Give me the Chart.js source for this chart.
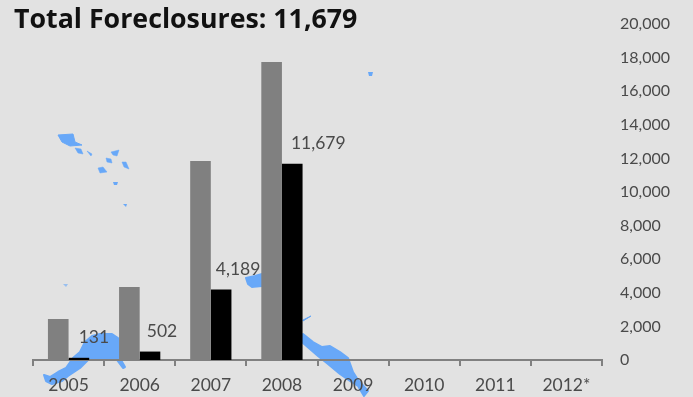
<!DOCTYPE html>
<html>
<head>
<meta charset="utf-8">
<script src="https://cdn.jsdelivr.net/npm/chart.js@4"></script>
<style>
  html, body { margin: 0; padding: 0; background: #e2e2e2; }
  #wrap { position: relative; width: 693px; height: 397px; overflow: hidden; }
  #stains { position: absolute; left: 0; top: 0; }
  canvas { position: absolute; left: 0; top: 0; }
</style>
</head>
<body>
<div id="wrap">
  <!-- Blue map fragments sitting behind the plot -->
  <svg id="stains" width="693" height="397" fill="#68a8f8" stroke="#68a8f8" stroke-width="2" stroke-linejoin="round">
    <path d="M44 375 L50 377 L58 372 L66 368 L73 358 L80 352 L85 342 L92 336 L100 334 L112 334 L118 338 L119 352 L121 360 L125 367 L123 368 L117 360 L112 358 L88 360 L80 368 L68 376 L62 381 L52 384 L46 381 Z"/>
    <path d="M303 334 L308 338 L313 342 L322 347 L330 346 L340 352 L348 358 L353 372 L358 380 L368 391 L364 396 L358 386 L350 381 L340 374 L328 364 L318 356 L303 343 Z"/>
    <path d="M303 320 L311 316 L303 321 Z" stroke-width="1"/>
    <path d="M246 278 L255 276 L262 274 L262 286 L252 287 L248 284 Z"/>
    <path d="M58 135 L73 134 L75 142 L82 145 L70 146 L62 142 Z" stroke-width="1"/>
    <path d="M75 148 L81 149 L83 154 L78 153 Z" stroke-width="0.5"/>
    <path d="M87 151 L92 154 L91 156 Z" stroke-width="0.5"/>
    <path d="M111 152 L119 150 L117 156 L113 155 Z" stroke-width="0.5"/>
    <path d="M106 158 L111 159 L112 163 L107 162 Z" stroke-width="0.5"/>
    <path d="M122 162 L126 162 L129 169 L124 167 Z" stroke-width="0.5"/>
    <path d="M98 168 L103 167 L107 172 L100 173 Z" stroke-width="0.5"/>
    <path d="M113 182 L118 182 L117 185 L114 185 Z" stroke="none"/>
    <path d="M123 204 L127 204 L126 207 Z" stroke="none"/>
    <path d="M368 72 L373 72 L372 76 L369 76 Z" stroke="none"/>
    <path d="M63 284 L68 284 L66 287 Z" stroke="none" opacity="0.6"/>
  </svg>
  <canvas id="chart" width="693" height="397"></canvas>
</div>
<script>
const years = ['2005', '2006', '2007', '2008', '2009', '2010', '2011', '2012*'];
const priorSeries = [2440, 4345, 11850, 17740, null, null, null, null];
const foreclosures = [131, 502, 4189, 11679, null, null, null, null];
const valueLabels = ['131', '502', '4,189', '11,679'];
const labelShift = [15, 12, 17, 26];
const heading = 'Total Foreclosures: 11,679';

const plotTop = 24;
const plotBottom = 360;

const textColor = '#4a4a4a';
const fontFamily = 'Lato, "Open Sans", sans-serif';

// Pins the vertical extent of the value axis once layout has finished
const plotExtentPlugin = {
  id: 'plotExtent',
  afterLayout(chart) {
    const y = chart.scales.y;
    y.top = plotTop;
    y.bottom = plotBottom;
    y.height = plotBottom - plotTop;
    y.configure();
    chart.chartArea.top = plotTop;
    chart.chartArea.bottom = plotBottom;
    chart.chartArea.height = plotBottom - plotTop;
  }
};

// Writes the heading above the plot and the value beside each black bar
const annotationPlugin = {
  id: 'annotations',
  afterDatasetsDraw(chart) {
    const { ctx } = chart;
    const bars = chart.getDatasetMeta(1).data;
    ctx.save();
    ctx.fillStyle = '#111111';
    ctx.font = 'bold 26.75px "Open Sans", Lato, sans-serif';
    ctx.textAlign = 'left';
    ctx.textBaseline = 'alphabetic';
    ctx.fillText(heading, 14, 28);
    ctx.fillStyle = textColor;
    ctx.font = '17.5px ' + fontFamily;
    ctx.textAlign = 'center';
    ctx.textBaseline = 'middle';
    valueLabels.forEach((text, i) => {
      ctx.fillText(text, bars[i].x + labelShift[i], bars[i].y - 20);
    });
    ctx.restore();
  }
};

new Chart(document.getElementById('chart'), {
  type: 'bar',
  data: {
    labels: years,
    datasets: [
      { data: priorSeries, backgroundColor: '#808080' },
      { data: foreclosures, backgroundColor: '#000000' }
    ]
  },
  options: {
    responsive: false,
    animation: false,
    layout: { autoPadding: false, padding: { left: 33, right: 0, top: 24, bottom: 0 } },
    datasets: { bar: { categoryPercentage: 0.58, barPercentage: 1 } },
    plugins: {
      legend: { display: false },
      tooltip: { enabled: false }
    },
    scales: {
      x: {
        grid: { drawOnChartArea: false, drawTicks: true, tickLength: 6, color: '#808080', lineWidth: 2, offset: true },
        border: { color: '#808080', width: 2 },
        ticks: { color: textColor, font: { family: fontFamily, size: 17.5 }, padding: 9, maxRotation: 0, autoSkip: false },
        afterFit(scale) { scale.height = 37; }
      },
      y: {
        position: 'right',
        min: 0,
        max: 20000,
        grid: { display: false, drawTicks: false },
        border: { display: false },
        ticks: {
          stepSize: 2000,
          color: textColor,
          font: { family: fontFamily, size: 16 },
          padding: 18,
          callback: v => v.toLocaleString('en-US')
        },
        afterFit(scale) { scale.width = 91; }
      }
    }
  },
  plugins: [plotExtentPlugin, annotationPlugin]
});
</script>
</body>
</html>
